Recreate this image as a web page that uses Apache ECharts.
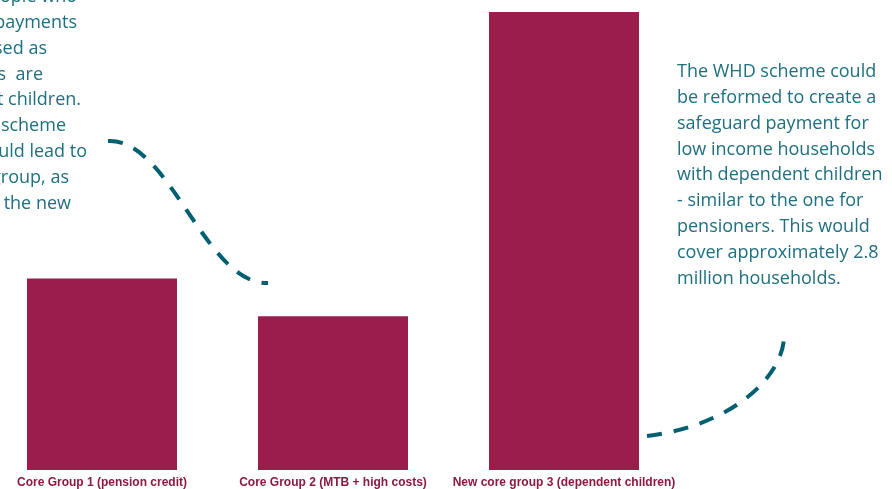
<!DOCTYPE html>
<html>
<head>
<meta charset="utf-8">
<script src="https://cdn.jsdelivr.net/npm/echarts@6/dist/echarts.min.js"></script>
<style>html,body{margin:0;padding:0;background:#fff}#c{width:892px;height:489px}</style>
</head>
<body>
<div id="c"></div>
<script>
const categories = ['Core Group 1 (pension credit)', 'Core Group 2 (MTB + high costs)', 'New core group 3 (dependent children)'];
const householdsMillions = [1.17, 0.94, 2.8];
const leftNoteLines = ['Many people who', 'receive payments', 'are classed as', 'core groups  are', 'without children.', 'Reforming the scheme', 'this way could lead to', 'the same group, as', 'well as the new'];
const leftNoteRightEdges = [77, 77, 47, 43, 81, 66, 87, 69, 71];
const rightNoteLines = ['The WHD scheme could', 'be reformed to create a', 'safeguard payment for', 'low income households', 'with dependent children', '- similar to the one for', 'pensioners. This would', 'cover approximately 2.8', 'million households.'];

const chart = echarts.init(document.getElementById('c'), null, {renderer: 'canvas'});
const textColor = '#1e6f7f';
const dashColor = '#005f70';
const graphics = [];
leftNoteLines.forEach((t, i) => {
  graphics.push({type: 'text', x: leftNoteRightEdges[i], y: -3 + i * 25.8,
    style: {text: t, fill: textColor, font: '18px "Open Sans"', textAlign: 'right', textVerticalAlign: 'middle'}});
});
rightNoteLines.forEach((t, i) => {
  graphics.push({type: 'text', x: 677, y: 72 + i * 25.8,
    style: {text: t, fill: textColor, font: '18px "Open Sans"', textAlign: 'left', textVerticalAlign: 'middle'}});
});
graphics.push({type: 'bezierCurve', shape: {x1: 108, y1: 141, cpx1: 170, cpy1: 138, cpx2: 205, cpy2: 285, x2: 268, y2: 283},
  style: {stroke: dashColor, lineWidth: 4, fill: null, lineDash: [15, 12]}});
graphics.push({type: 'bezierCurve', shape: {x1: 647, y1: 436, cpx1: 735, cpy1: 425, cpx2: 783, cpy2: 375, x2: 784, y2: 337},
  style: {stroke: dashColor, lineWidth: 4, fill: null, lineDash: [15, 12]}});

chart.setOption({
  animation: false,
  backgroundColor: '#ffffff',
  grid: {left: 102, right: 328, top: 12, bottom: 19, containLabel: false},
  xAxis: {type: 'category', data: categories, boundaryGap: false,
    axisLine: {show: false}, axisTick: {show: false},
    axisLabel: {interval: 0, color: '#8b1a40', fontWeight: 'bold', fontSize: 12, fontFamily: 'Liberation Sans, Arial', margin: 7}},
  yAxis: {type: 'value', min: 0, max: 2.8, show: false, splitLine: {show: false}},
  series: [{type: 'bar', data: householdsMillions, barWidth: 150,
    itemStyle: {color: '#9b1d4c'}}],
  graphic: graphics
});
</script>
</body>
</html>
